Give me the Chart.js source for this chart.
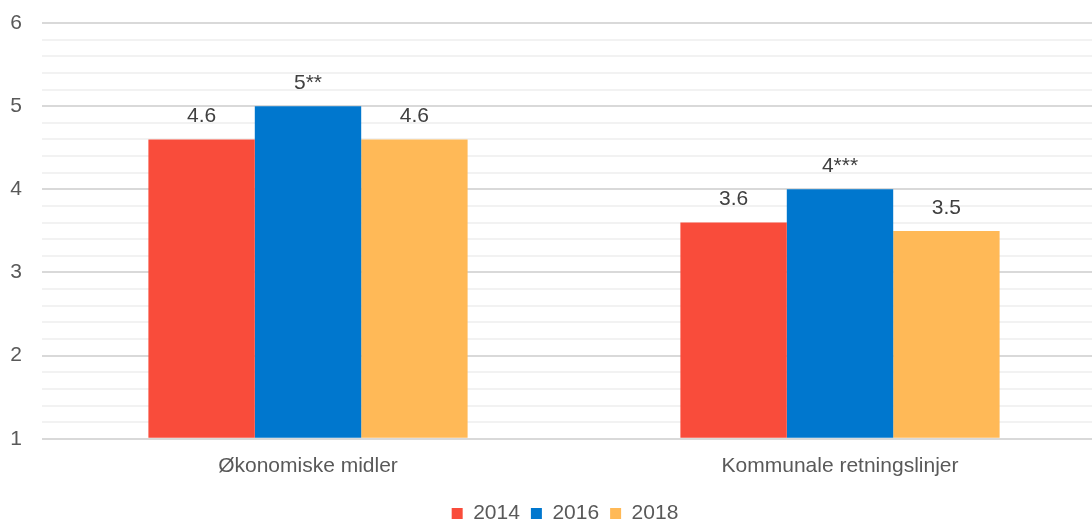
<!DOCTYPE html>
<html>
<head>
<meta charset="utf-8">
<script src="https://cdn.jsdelivr.net/npm/chart.js@4.4.0/dist/chart.umd.min.js"></script>
<style>
  html, body { margin: 0; padding: 0; background: #fff; overflow: hidden; }
  #wrap { width: 1106px; height: 534px; }
</style>
</head>
<body>
<div id="wrap"><canvas id="myChart"></canvas></div>
<script>
const categories = ['Økonomiske midler', 'Kommunale retningslinjer'];
const years = ['2014', '2016', '2018'];
const values2014 = [4.6, 3.6];
const values2016 = [5, 4];
const values2018 = [4.6, 3.5];
const labels2014 = ['4.6', '3.6'];
const labels2016 = ['5**', '4***'];
const labels2018 = ['4.6', '3.5'];
const yTicks = [1, 2, 3, 4, 5, 6];

const colors = ['#F94C3B', '#0077CE', '#FFB957'];
const textColor = '#595959';
const fontFamily = '"Liberation Sans", Arial, sans-serif';

// value labels above each bar
const barLabels = {
  id: 'barLabels',
  afterDatasetsDraw(chart) {
    const ctx = chart.ctx;
    ctx.save();
    ctx.font = '21px ' + fontFamily;
    ctx.fillStyle = '#404040';
    ctx.textAlign = 'center';
    ctx.textBaseline = 'middle';
    chart.data.datasets.forEach((ds, i) => {
      chart.getDatasetMeta(i).data.forEach((bar, j) => {
        ctx.fillText(ds.valueLabels[j], bar.x, bar.y - 23);
      });
    });
    ctx.restore();
  }
};

// nudge the legend so it sits under the middle of the plot area
const legendShift = {
  id: 'legendShift',
  afterLayout(chart) {
    if (chart.legend) {
      chart.legend.left += 12;
      chart.legend.right += 12;
    }
  }
};

const data = {
  labels: categories,
  datasets: [
    { label: years[0], data: values2014, valueLabels: labels2014, backgroundColor: colors[0] },
    { label: years[1], data: values2016, valueLabels: labels2016, backgroundColor: colors[1] },
    { label: years[2], data: values2018, valueLabels: labels2018, backgroundColor: colors[2] }
  ]
};

new Chart(document.getElementById('myChart'), {
  type: 'bar',
  data: data,
  plugins: [barLabels, legendShift],
  options: {
    responsive: true,
    maintainAspectRatio: false,
    animation: false,
    layout: { padding: { top: 23, left: 0, right: 0, bottom: 0 } },
    datasets: {
      bar: { categoryPercentage: 0.6, barPercentage: 1.0, base: 1 }
    },
    scales: {
      x: {
        grid: { display: false },
        border: { display: false },
        afterFit: (scale) => { scale.height += 6; },
        ticks: {
          color: textColor,
          font: { family: fontFamily, size: 21 },
          padding: 7
        }
      },
      y: {
        min: yTicks[0],
        max: yTicks[yTicks.length - 1],
        border: { display: false },
        afterFit: (scale) => {
          scale.width = 42;
          scale.paddingTop = 0;
          scale.paddingBottom = 0;
        },
        grid: {
          drawTicks: false,
          lineWidth: 2,
          color: (c) => Number.isInteger(Math.round(c.tick.value * 1000) / 1000) ? '#D9D9D9' : '#F2F2F2'
        },
        ticks: {
          stepSize: 0.2,
          autoSkip: false,
          color: textColor,
          padding: 20,
          font: { family: fontFamily, size: 21 },
          callback: (v) => {
            const r = Math.round(v * 1000) / 1000;
            return yTicks.includes(r) ? String(r) : '';
          }
        }
      }
    },
    plugins: {
      legend: {
        position: 'bottom',
        labels: {
          color: textColor,
          boxWidth: 11,
          boxHeight: 11,
          padding: 11,
          font: { family: fontFamily, size: 21 }
        }
      },
      tooltip: { enabled: false }
    }
  }
});
</script>
</body>
</html>
